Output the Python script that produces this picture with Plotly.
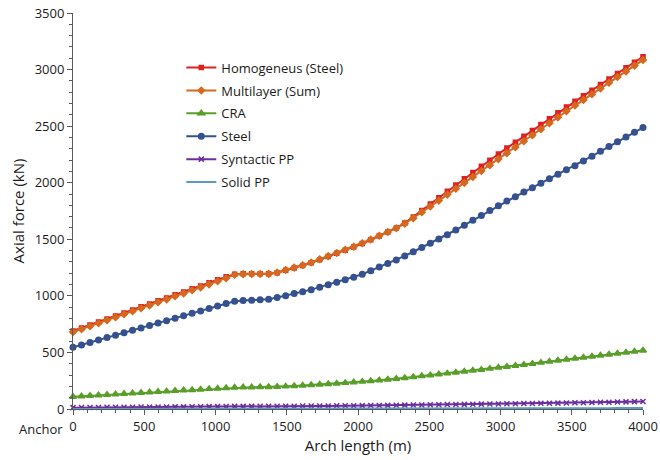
import plotly.graph_objects as go

# Stations along the arch (m), one every ~59.7 m from the anchor to 4000 m
arch_length_m = [round(i * 4000 / 67, 1) for i in range(68)]

homogeneous_steel = [
    690, 717, 743, 770, 796, 823, 849, 876, 903, 929,
    956, 982, 1009, 1035, 1062, 1088, 1115, 1142, 1168, 1192,
    1196, 1196, 1195, 1196, 1205, 1226, 1247, 1268, 1292, 1320,
    1348, 1376, 1404, 1432, 1462, 1496, 1530, 1564, 1600, 1644,
    1697, 1755, 1812, 1868, 1925, 1980, 2035, 2090, 2145, 2199,
    2254, 2306, 2358, 2410, 2462, 2514, 2566, 2618, 2670, 2719,
    2768, 2817, 2867, 2916, 2966, 3015, 3065, 3114,
]

multilayer_sum = [
    680, 706, 731, 758, 784, 811, 837, 864, 890, 916,
    943, 969, 996, 1022, 1049, 1075, 1102, 1129, 1156, 1186,
    1192, 1193, 1193, 1194, 1207, 1229, 1250, 1271, 1295, 1323,
    1351, 1379, 1407, 1435, 1465, 1498, 1531, 1564, 1598, 1638,
    1687, 1740, 1790, 1842, 1895, 1947, 1999, 2051, 2103, 2155,
    2209, 2261, 2313, 2366, 2419, 2472, 2525, 2578, 2632, 2682,
    2732, 2782, 2833, 2883, 2934, 2984, 3035, 3085,
]

cra = [
    109, 113, 118, 122, 126, 130, 135, 139, 143, 148,
    152, 156, 161, 165, 169, 173, 178, 182, 186, 190,
    192, 193, 194, 195, 197, 200, 204, 208, 212, 217,
    221, 226, 231, 236, 242, 248, 254, 261, 268, 275,
    283, 291, 299, 307, 315, 323, 331, 340, 348, 357,
    366, 374, 383, 392, 401, 410, 419, 428, 437, 446,
    455, 464, 473, 482, 491, 500, 509, 518,
]

steel = [
    545, 566, 588, 609, 631, 652, 674, 695, 717, 738,
    760, 781, 803, 824, 846, 867, 889, 910, 932, 953,
    960, 962, 965, 970, 985, 1002, 1020, 1037, 1055, 1077,
    1099, 1121, 1143, 1165, 1191, 1223, 1254, 1286, 1318, 1353,
    1390, 1428, 1466, 1503, 1541, 1582, 1625, 1668, 1711, 1754,
    1797, 1838, 1877, 1917, 1956, 1996, 2035, 2074, 2114, 2150,
    2193, 2235, 2277, 2320, 2362, 2404, 2447, 2487,
]

syntactic_pp = [
    12, 13, 14, 14, 15, 15, 16, 16, 17, 17,
    18, 18, 19, 19, 20, 20, 21, 21, 22, 23,
    23, 23, 24, 24, 24, 25, 25, 26, 26, 27,
    27, 28, 29, 29, 30, 31, 31, 32, 33, 34,
    35, 36, 37, 38, 39, 40, 41, 42, 43, 44,
    45, 46, 47, 48, 49, 50, 51, 52, 53, 55,
    56, 57, 59, 60, 62, 63, 65, 66,
]

solid_pp = [
    1, 1, 1, 1, 1, 1, 1, 1, 2, 2,
    2, 2, 2, 2, 2, 2, 2, 2, 3, 3,
    3, 3, 3, 3, 3, 3, 3, 3, 3, 3,
    3, 4, 4, 4, 4, 4, 4, 4, 4, 5,
    5, 5, 5, 5, 5, 5, 5, 5, 6, 6,
    6, 6, 6, 6, 6, 6, 7, 7, 7, 7,
    7, 7, 7, 7, 8, 8, 8, 8,
]

series = [
    ("Homogeneus (Steel)", homogeneous_steel, "#e0201f", "square", 4),
    ("Multilayer (Sum)", multilayer_sum, "#d4691f", "diamond", 5),
    ("CRA", cra, "#5a9e2a", "triangle-up", 6),
    ("Steel", steel, "#35518f", "circle", 5.5),
    ("Syntactic PP", syntactic_pp, "#6b2ca0", "x-thin-open", 5),
    ("Solid PP", solid_pp, "#5b9bc0", None, 0),
]

fig = go.Figure()
for i, (name, values, color, symbol, size) in enumerate(series):
    mode = "lines+markers" if symbol else "lines"
    marker = dict(symbol=symbol, size=size, color=color,
                  line=dict(color=color, width=1.5)) if symbol else None
    fig.add_trace(go.Scatter(
        x=arch_length_m, y=values, name=name, mode=mode,
        line=dict(color=color, width=2),
        marker=marker, cliponaxis=False, legendgroup=str(i),
    ))

tick_font = dict(family="Open Sans, sans-serif", size=13, color="#1a1a1a")
title_font = dict(family="Open Sans, sans-serif", size=15, color="#1a1a1a")

fig.update_layout(
    width=660, height=460,
    margin=dict(l=73, r=17, t=13, b=51, autoexpand=False),
    plot_bgcolor="white", paper_bgcolor="white",
    font=tick_font,
    showlegend=True,
    legend=dict(x=0.19, y=0.90, xanchor="left", yanchor="top",
                bgcolor="rgba(0,0,0,0)", font=tick_font,
                tracegroupgap=3),
)

fig.update_xaxes(
    range=[0, 4000], dtick=500, showgrid=False, zeroline=False,
    showline=True, linecolor="#595959", linewidth=1,
    ticks="outside", ticklen=5, tickcolor="#595959",
    minor=dict(dtick=100, ticks="outside", ticklen=3, tickcolor="#595959"),
    title=dict(text="Arch length (m)", font=title_font, standoff=2),
    tickfont=tick_font, automargin=False,
)
fig.update_yaxes(
    range=[0, 3500], dtick=500, showgrid=False, zeroline=False,
    showline=True, linecolor="#595959", linewidth=1,
    ticks="outside", ticklen=5, tickcolor="#595959",
    minor=dict(dtick=100, ticks="outside", ticklen=3, tickcolor="#595959"),
    title=dict(text="Axial force (kN)", font=title_font, standoff=6),
    tickfont=tick_font, automargin=False,
)

fig.add_annotation(
    text="Anchor", x=0, y=0, xref="paper", yref="paper",
    xanchor="right", yanchor="top", xshift=-8, yshift=-9,
    showarrow=False, font=tick_font,
)

fig.write_html("out.html")
